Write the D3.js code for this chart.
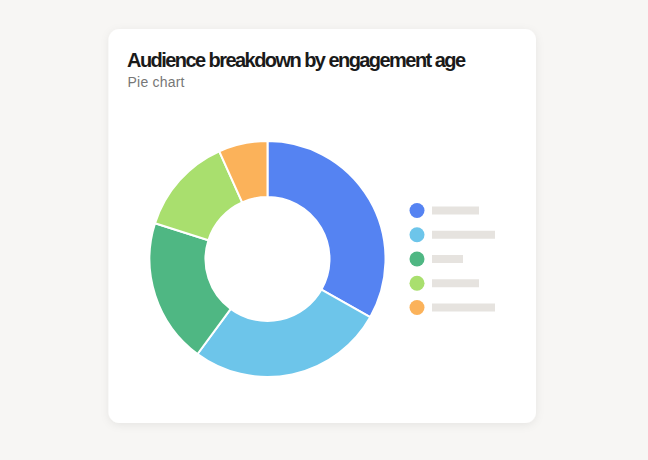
<!DOCTYPE html>
<html><head><meta charset="utf-8">
<script src="https://cdn.jsdelivr.net/npm/d3@7"></script>
<style>
html,body{margin:0;padding:0;background:#f7f6f4;}
svg{display:block;}
</style></head>
<body>
<svg id="chart" width="648" height="460"></svg>
<script>
const categories = ["Segment A","Segment B","Segment C","Segment D","Segment E"];
const values = [33.2, 26.9, 19.8, 13.4, 6.7];
const colors = ["#5583f2","#6dc5ea","#4fb783","#a9df6e","#fbb25a"];
const legendBarWidths = [47, 63, 31, 47, 63];
const title = "Audience breakdown by engagement age";
const subtitle = "Pie chart";

const svg = d3.select("#chart");
const defs = svg.append("defs");
const f = defs.append("filter").attr("id","shadow").attr("x","-10%").attr("y","-10%").attr("width","120%").attr("height","125%");
f.append("feDropShadow").attr("dx",0).attr("dy",2).attr("stdDeviation",4).attr("flood-color","#000").attr("flood-opacity",0.07);

svg.append("rect").attr("x",108.5).attr("y",29).attr("width",427.5).attr("height",394)
  .attr("rx",11).attr("fill","#fff").attr("filter","url(#shadow)");

const t = svg.append("text").attr("x",127).attr("y",67).text(title)
  .attr("font-family","'Liberation Sans', Arial, sans-serif").attr("font-weight",700)
  .attr("font-size",20).attr("fill","#1a1a1a");
const tw = t.node().getComputedTextLength();
if (tw > 0) { t.attr("letter-spacing", ((339 - tw) / (title.length - 1)).toFixed(3) + "px"); }

const s = svg.append("text").attr("x",127.5).attr("y",86.5).text(subtitle)
  .attr("font-family","'Liberation Sans', Arial, sans-serif").attr("font-weight",400)
  .attr("font-size",14).attr("fill","#777");
const sw = s.node().getComputedTextLength();
if (sw > 0) { s.attr("letter-spacing", ((57 - sw) / (subtitle.length - 1)).toFixed(3) + "px"); }

const cx = 267.5, cy = 259, outerR = 118, innerR = 62;
const pie = d3.pie().sort(null).value(d => d)(values);
const arc = d3.arc().innerRadius(innerR).outerRadius(outerR);
const g = svg.append("g").attr("transform",`translate(${cx},${cy})`);
g.selectAll("path").data(pie).join("path")
  .attr("d",arc).attr("fill",(d,i)=>colors[i])
  .attr("stroke","#fff").attr("stroke-width",2).attr("stroke-linejoin","round");

const ly = d3.scalePoint().domain(categories).range([210.5, 307.5]);
const lg = svg.append("g");
lg.selectAll("circle").data(categories).join("circle")
  .attr("cx",417).attr("cy",d=>ly(d)).attr("r",7.5).attr("fill",(d,i)=>colors[i]);
lg.selectAll("rect").data(categories).join("rect")
  .attr("x",432).attr("y",d=>ly(d)-4).attr("height",8)
  .attr("width",(d,i)=>legendBarWidths[i]).attr("fill","#e6e3df");
</script>
</body></html>
